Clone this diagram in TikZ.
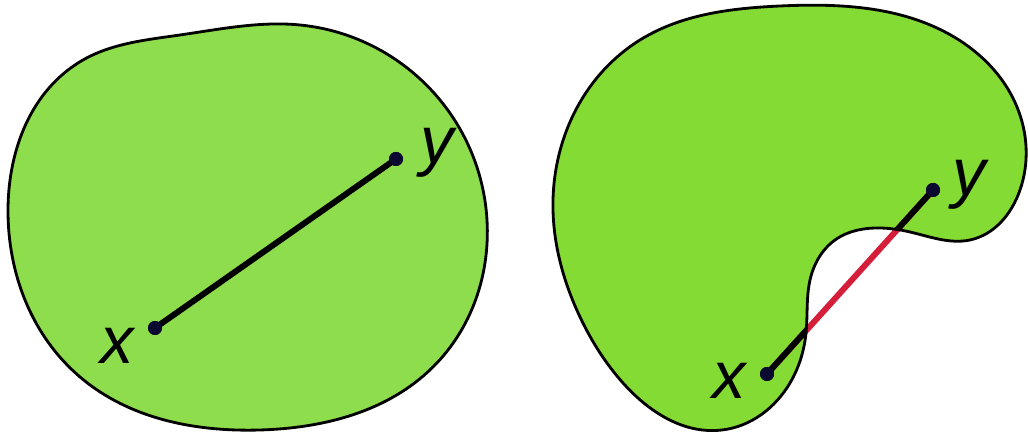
\documentclass[tikz,border=0pt]{standalone}
\usepackage{fontspec}
\setmainfont{Liberation Sans}
\usetikzlibrary{hobby}
\definecolor{convexgreen}{RGB}{142,221,76}
\definecolor{blobgreen}{RGB}{132,219,52}
\definecolor{dotblue}{RGB}{10,10,48}
\definecolor{outred}{RGB}{212,30,58}
\tikzset{
  setline/.style={line width=0.8pt},
  segline/.style={line width=1.7pt, line cap=round},
  ptdot/.style={circle, fill=dotblue, inner sep=0pt, minimum size=0.14cm},
  ptlabel/.style={font=\fontsize{19}{19}\selectfont\itshape}
}
\def\convexset{plot[closed hobby] coordinates {(0.08,2.24) (0.83,3.74) (1.80,3.99) (3.00,4.09) (4.40,3.34) (4.87,2.14) (4.33,0.67) (2.60,0.04) (0.80,0.57)}}
\def\kidneyset{plot[closed hobby] coordinates {(5.53,2.34) (6.40,3.94) (7.80,4.28) (9.47,4.01) (10.17,3.27) (10.20,2.44) (9.70,1.94) (9.10,2.02) (8.80,2.06) (8.35,1.94) (8.10,1.54) (8.06,1.01) (7.90,0.51) (7.22,0.04) (6.23,0.51) (5.80,1.17)}}
\begin{document}
\begin{tikzpicture}
\useasboundingbox (0,0) rectangle (10.28,4.34);
% convex set
\fill[convexgreen] \convexset;
\node[ptdot] (xa) at (1.55,1.06) {};
\node[ptdot] (ya) at (3.96,2.75) {};
\draw[segline] (xa.center) -- (ya.center);
\draw[setline] \convexset;
\node[ptdot] at (xa) {};
\node[ptdot] at (ya) {};
\node[ptlabel] (xalabel) at (1.17,0.88) {x};
\node[ptlabel] (yalabel) at (4.37,2.81) {y};
% non-convex set
\fill[blobgreen] \kidneyset;
\node[ptdot] (xb) at (7.67,0.60) {};
\node[ptdot] (yb) at (9.33,2.44) {};
\draw[segline, outred] (xb.center) -- (yb.center);
\begin{scope}
\clip \kidneyset;
\draw[segline] (xb.center) -- (yb.center);
\end{scope}
\draw[setline] \kidneyset;
\node[ptdot] at (xb) {};
\node[ptdot] at (yb) {};
\node[ptlabel] (xblabel) at (7.29,0.53) {x};
\node[ptlabel] (yblabel) at (9.69,2.49) {y};
\end{tikzpicture}
\end{document}
